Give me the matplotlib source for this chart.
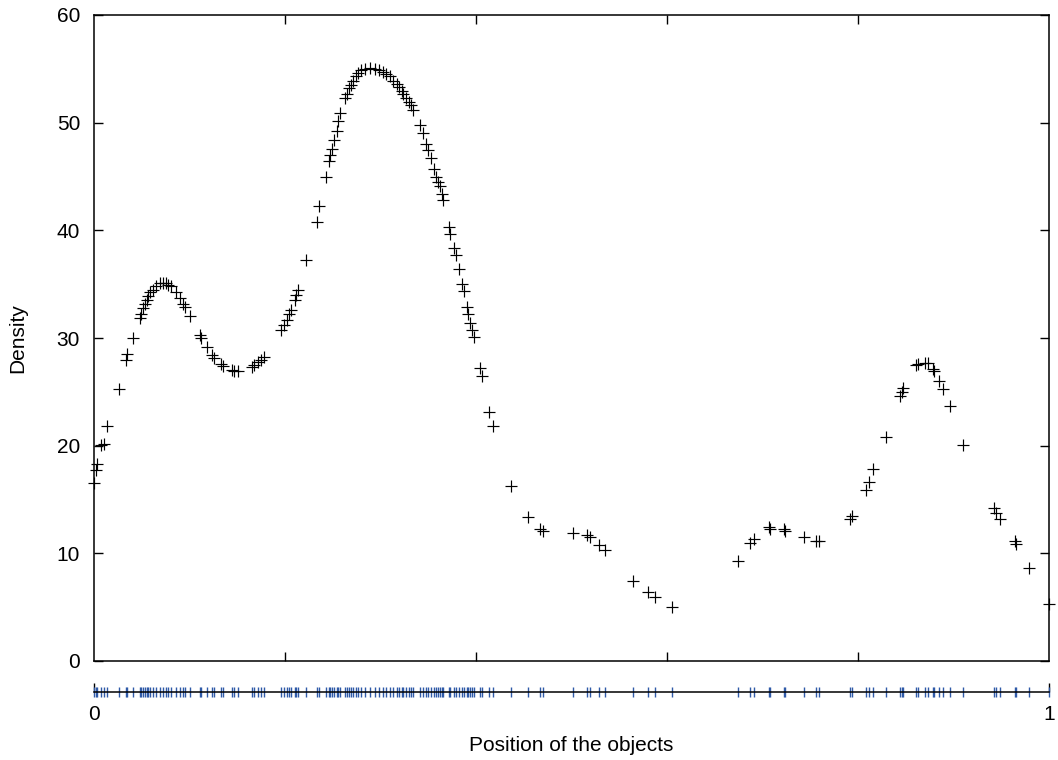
import matplotlib
matplotlib.use("Agg")
import matplotlib.pyplot as plt

plt.rcParams['font.family'] = ['Liberation Sans', 'DejaVu Sans']

# positions of the objects (0..1) and density estimated at each of them
position = [
    0.000, 0.002, 0.003, 0.007, 0.010, 0.014, 0.026, 0.033, 0.035, 0.041,
    0.048, 0.049, 0.051, 0.053, 0.055, 0.057, 0.059, 0.062, 0.065, 0.069,
    0.072, 0.075, 0.077, 0.081, 0.086, 0.090, 0.093, 0.095, 0.100, 0.111,
    0.112, 0.118, 0.124, 0.126, 0.133, 0.135, 0.144, 0.147, 0.151, 0.165,
    0.168, 0.172, 0.175, 0.178, 0.196, 0.199, 0.202, 0.204, 0.206, 0.210,
    0.212, 0.214, 0.222, 0.233, 0.236, 0.243, 0.246, 0.247, 0.249, 0.251,
    0.254, 0.256, 0.258, 0.263, 0.265, 0.267, 0.269, 0.271, 0.274, 0.276,
    0.280, 0.284, 0.289, 0.294, 0.298, 0.303, 0.306, 0.310, 0.313, 0.317,
    0.319, 0.322, 0.324, 0.327, 0.330, 0.332, 0.334, 0.341, 0.344, 0.348,
    0.350, 0.353, 0.356, 0.358, 0.360, 0.362, 0.364, 0.365, 0.372, 0.373,
    0.377, 0.379, 0.382, 0.385, 0.387, 0.391, 0.392, 0.394, 0.396, 0.398,
    0.404, 0.406, 0.414, 0.418, 0.437, 0.454, 0.467, 0.470, 0.502, 0.516,
    0.519, 0.529, 0.535, 0.564, 0.580, 0.587, 0.605, 0.674, 0.687, 0.691,
    0.707, 0.708, 0.722, 0.724, 0.743, 0.756, 0.759, 0.792, 0.794, 0.808,
    0.811, 0.816, 0.829, 0.844, 0.846, 0.847, 0.861, 0.863, 0.870, 0.873,
    0.879, 0.880, 0.885, 0.889, 0.896, 0.910, 0.942, 0.945, 0.949, 0.964,
    0.965, 0.979, 1.000,
]
density = [
    16.5, 17.7, 18.3, 20.1, 20.2, 21.8, 25.3, 28.0, 28.5, 30.0,
    31.9, 32.2, 32.8, 33.2, 33.5, 33.9, 34.3, 34.5, 34.8, 35.1,
    35.1, 35.1, 34.9, 34.8, 34.3, 33.7, 33.2, 32.9, 32.0, 30.3,
    30.0, 29.2, 28.4, 28.1, 27.6, 27.4, 27.0, 26.9, 26.9, 27.3,
    27.5, 27.8, 28.0, 28.2, 30.7, 31.2, 31.7, 32.2, 32.6, 33.5,
    34.0, 34.5, 37.2, 40.8, 42.3, 45.0, 46.4, 47.0, 47.6, 48.4,
    49.2, 50.2, 50.9, 52.3, 52.7, 53.2, 53.5, 53.9, 54.3, 54.6,
    54.9, 55.0, 55.1, 55.0, 54.9, 54.7, 54.5, 54.3, 53.9, 53.6,
    53.3, 52.9, 52.7, 52.3, 51.9, 51.6, 51.2, 49.8, 49.0, 48.0,
    47.5, 46.7, 45.7, 45.0, 44.5, 44.1, 43.4, 42.8, 40.3, 39.7,
    38.4, 37.7, 36.4, 35.0, 34.4, 32.9, 32.2, 31.4, 30.7, 30.1,
    27.2, 26.5, 23.1, 21.8, 16.3, 13.4, 12.3, 12.1, 11.9, 11.7,
    11.5, 10.8, 10.3, 7.4, 6.4, 5.9, 5.0, 9.3, 11.0, 11.3,
    12.4, 12.3, 12.3, 12.1, 11.5, 11.1, 11.1, 13.2, 13.5, 15.9,
    16.6, 17.8, 20.8, 24.6, 25.0, 25.4, 27.5, 27.6, 27.7, 27.7,
    27.1, 26.9, 26.0, 25.3, 23.7, 20.1, 14.2, 13.7, 13.2, 11.1,
    10.9, 8.6, 5.3,
]

y_ticks = [0, 10, 20, 30, 40, 50, 60]
x_ticks_inner = [0.2, 0.4, 0.6, 0.8]
rug_ticks = [0, 1]
rug_labels = ["0", "1"]

FS = 15

fig = plt.figure(figsize=(10.58, 7.6), dpi=100)
W, H = 1058, 760

# main density plot
ax = fig.add_axes([94 / W, (H - 661) / H, (1049 - 94) / W, (661 - 15) / H])
ax.plot(position, density, linestyle="none", marker="+", color="black",
        markersize=8, markeredgewidth=0.85, clip_on=False)
ax.set_xlim(0, 1)
ax.set_ylim(0, 60)
ax.set_yticks(y_ticks)
ax.set_xticks(x_ticks_inner)
ax.set_xticklabels([])
ax.tick_params(axis="both", direction="in", length=6.5, width=1.0,
               top=True, right=True, labelsize=FS, pad=10)
for s in ax.spines.values():
    s.set_linewidth(1.1)
ax.set_ylabel("Density", fontsize=FS)
ax.yaxis.set_label_coords(-0.07, 0.5)

# rug strip under the plot
rug = fig.add_axes([94 / W, (H - 702) / H, (1049 - 94) / W, 20 / H])
rug.set_xlim(0, 1)
rug.set_ylim(-1, 1)
for side in ["top", "left", "right"]:
    rug.spines[side].set_visible(False)
rug.spines["bottom"].set_position(("data", 0))
rug.spines["bottom"].set_linewidth(1.1)
rug.vlines(position, -0.5, 0.55, color="#2f5aa8", linewidth=1.0, clip_on=False)
rug.set_yticks([])
rug.set_xticks(rug_ticks)
rug.set_xticklabels(rug_labels)
rug.tick_params(axis="x", direction="in", length=6.5, width=1.0,
                labelsize=FS, pad=9)
rug.set_xlabel("Position of the objects", fontsize=FS)
rug.xaxis.set_label_coords(0.5, -1.7)

fig.savefig("out.png", dpi=100)
